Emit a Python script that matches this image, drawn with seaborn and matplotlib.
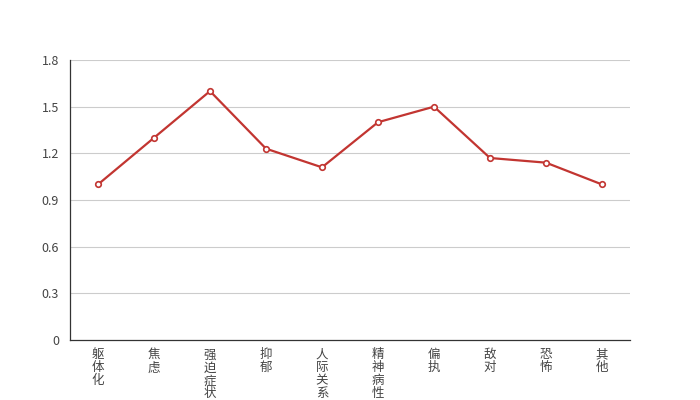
import matplotlib
matplotlib.use("Agg")
import matplotlib.pyplot as plt
import seaborn as sns
import pandas as pd

# data
categories = ["躯体化", "焦虑", "强迫症状", "抑郁", "人际关系", "精神病性", "偏执", "敌对", "恐怖", "其他"]
scores = [1.0, 1.3, 1.6, 1.23, 1.11, 1.4, 1.5, 1.17, 1.14, 1.0]
y_ticks = [0, 0.3, 0.6, 0.9, 1.2, 1.5, 1.8]
y_labels = ["0", "0.3", "0.6", "0.9", "1.2", "1.5", "1.8"]

sns.set_style("white")
plt.rcParams["font.family"] = ["Noto Sans CJK SC", "DejaVu Sans"]

df = pd.DataFrame({"cat": categories, "score": scores})

fig = plt.figure(figsize=(7, 4), dpi=100)
ax = fig.add_axes([0.1, 0.15, 0.8, 0.7])

red = "#c23531"
sns.lineplot(data=df, x="cat", y="score", ax=ax, color=red, linewidth=1.6,
             marker="o", markersize=4, markerfacecolor="white",
             markeredgecolor=red, markeredgewidth=1.2, sort=False)

ax.set_xlim(-0.5, len(categories) - 0.5)
ax.set_ylim(0, 1.8)

# y axis
ax.set_yticks(y_ticks)
ax.set_yticklabels(y_labels, fontsize=9, color="#444444")
for y in y_ticks[1:]:
    ax.axhline(y, color="#cccccc", linewidth=0.8, zorder=0)

# x axis: ticks on band edges, labels in band centres, stacked vertically
ax.set_xticks([i - 0.5 for i in range(len(categories) + 1)])
ax.set_xticklabels([])
ax.set_xticks(range(len(categories)), minor=True)
ax.set_xticklabels(["\n".join(c) for c in categories], minor=True,
                   fontsize=9, color="#444444", linespacing=1.0, va="top")
ax.tick_params(axis="x", which="minor", length=0, pad=6)
ax.tick_params(axis="x", which="major", length=5, width=0.8, color="#333333", direction="out")
ax.tick_params(axis="y", length=5, width=0.8, color="#333333", direction="out", pad=3)

for side in ["top", "right"]:
    ax.spines[side].set_visible(False)
for side in ["left", "bottom"]:
    ax.spines[side].set_color("#333333")
    ax.spines[side].set_linewidth(0.9)

ax.set_xlabel("")
ax.set_ylabel("")

fig.savefig("out.png", dpi=100)
